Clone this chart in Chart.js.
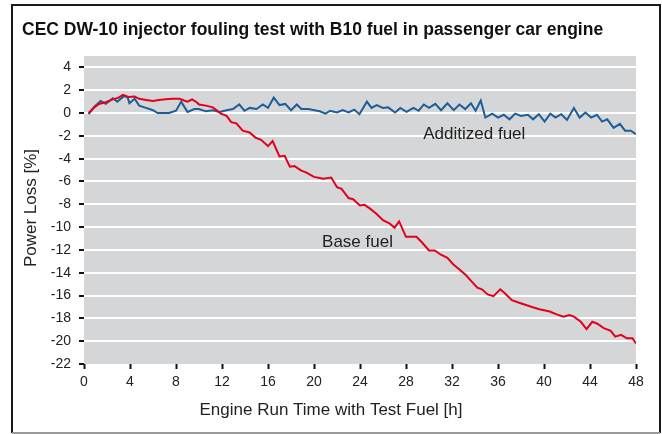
<!DOCTYPE html>
<html>
<head>
<meta charset="utf-8">
<script src="https://cdn.jsdelivr.net/npm/chart.js@4"></script>
<style>
  html, body { margin: 0; padding: 0; background: #fff; }
  #wrap { position: relative; width: 662px; height: 434px; }
</style>
</head>
<body>
<div id="wrap"><canvas id="chart" width="662" height="434"></canvas></div>
<script>
const TITLE = "CEC DW-10 injector fouling test with B10 fuel in passenger car engine";
const X_TITLE = "Engine Run Time with Test Fuel [h]";
const Y_TITLE = "Power Loss [%]";

const xTicks = [0, 4, 8, 12, 16, 20, 24, 28, 32, 36, 40, 44, 48];
const yTicks = [4, 2, 0, -2, -4, -6, -8, -10, -12, -14, -16, -18, -20, -22];

// Base fuel (red)
const baseHours = [0.4, 0.9, 1.3, 1.9, 2.5, 3.0, 3.4, 3.9, 4.4, 4.8, 5.4, 6.0, 6.5, 7.1, 7.7, 8.3, 8.7, 9.0, 9.4, 9.8,
  10.0, 10.6, 11.2, 11.6, 11.9, 12.4, 12.8, 13.25, 13.8, 14.4, 14.9, 15.4, 16.0, 16.4, 17.0, 17.45, 17.9, 18.3, 18.9, 19.3,
  20.0, 20.8, 21.5, 22.0, 22.4, 23.0, 23.4, 24.0, 24.4, 24.9, 25.4, 26.0, 26.6, 27.0, 27.4, 28.0, 28.9, 29.4, 30.0, 30.5,
  31.0, 31.6, 32.1, 32.7, 33.2, 33.6, 34.2, 34.6, 35.1, 35.6, 36.2, 36.6, 37.2, 37.9, 39.1, 39.6, 40.5, 41.1, 41.7, 42.2,
  42.6, 43.2, 43.7, 44.2, 44.6, 45.2, 45.8, 46.2, 46.7, 47.2, 47.7, 48.0];
const baseLoss = [0, 0.5, 0.8, 0.95, 1.2, 1.35, 1.6, 1.4, 1.45, 1.25, 1.15, 1.05, 1.15, 1.2, 1.25, 1.25, 1.1, 1.0, 1.2, 0.95,
  0.75, 0.65, 0.5, 0.2, -0.05, -0.25, -0.8, -0.9, -1.55, -1.7, -2.15, -2.35, -2.9, -2.45, -3.8, -3.75, -4.7, -4.65, -5.05, -5.2,
  -5.6, -5.75, -5.65, -6.5, -6.65, -7.45, -7.55, -8.1, -8.05, -8.4, -8.8, -9.4, -9.7, -10.05, -9.5, -10.85, -10.85, -11.35, -12.05, -12.05,
  -12.4, -12.7, -13.25, -13.75, -14.2, -14.65, -15.3, -15.45, -15.9, -16.05, -15.45, -15.8, -16.4, -16.65, -17.05, -17.2, -17.4, -17.65, -17.85, -17.7,
  -17.85, -18.3, -18.95, -18.3, -18.45, -18.85, -19.1, -19.6, -19.45, -19.75, -19.75, -20.2];

// Additized fuel (blue)
const addHours = [0.4, 0.9, 1.45, 1.9, 2.5, 2.9, 3.5, 3.8, 3.95, 4.4, 4.8, 5.4, 6.0, 6.4, 7.4, 8.0, 8.45, 9.0, 9.6, 10.0,
  10.6, 11.2, 11.8, 12.4, 12.95, 13.5, 13.95, 14.4, 15.0, 15.55, 16.0, 16.5, 17.0, 17.5, 18.0, 18.5, 18.9, 19.5, 20.05, 20.5,
  21.0, 21.4, 22.0, 22.5, 23.0, 23.5, 23.95, 24.6, 25.0, 25.45, 26.0, 26.45, 27.05, 27.5, 28.05, 28.65, 29.1, 29.55, 30.0, 30.55,
  31.05, 31.6, 32.15, 32.65, 33.15, 33.65, 34.05, 34.5, 34.9, 35.5, 36.0, 36.5, 37.0, 37.5, 38.0, 38.6, 39.05, 39.55, 40.05, 40.55,
  41.0, 41.5, 42.0, 42.6, 43.1, 43.6, 44.1, 44.6, 45.05, 45.5, 46.05, 46.6, 47.05, 47.55, 48.0];
const addLoss = [-0.1, 0.55, 1.05, 0.8, 1.3, 1.0, 1.5, 1.35, 0.85, 1.25, 0.65, 0.45, 0.25, 0, 0, 0.2, 1.0, 0.1, 0.35, 0.35,
  0.15, 0.25, 0.1, 0.25, 0.35, 0.75, 0.2, 0.45, 0.35, 0.75, 0.45, 1.35, 0.7, 0.8, 0.25, 0.75, 0.35, 0.35, 0.25, 0.15,
  -0.05, 0.2, 0.05, 0.25, 0.05, 0.3, -0.1, 1.0, 0.45, 0.7, 0.45, 0.5, 0.05, 0.45, 0.1, 0.45, 0.2, 0.75, 0.45, 0.8,
  0.25, 0.85, 0.25, 0.75, 0.35, 0.85, 0.2, 1.1, -0.4, -0.05, -0.4, -0.15, -0.55, -0.05, -0.25, -0.15, -0.55, -0.1, -0.75, -0.05,
  -0.4, -0.1, -0.6, 0.45, -0.4, 0.05, -0.4, -0.15, -0.75, -0.55, -1.3, -0.95, -1.55, -1.55, -1.85];

const labels = [
  { text: "Additized fuel", x: 29.5, y: -1.85 },
  { text: "Base fuel", x: 20.7, y: -11.3 },
];

const toPoints = (xs, ys) => xs.map((x, i) => ({ x, y: ys[i] }));

const FONT = "'Liberation Sans', Arial, Helvetica, sans-serif";

// gray plot background + frame + texts
const decor = {
  id: "decor",
  beforeDraw(chart) {
    const { ctx, chartArea: a } = chart;
    ctx.save();
    ctx.fillStyle = "#d5d6d8";
    ctx.fillRect(a.left, a.top, a.right - a.left, a.bottom - a.top);
    ctx.restore();
  },
  afterDraw(chart) {
    const { ctx, chartArea: a, scales } = chart;
    ctx.save();
    // frame
    ctx.strokeStyle = "#1a1a1a";
    ctx.lineWidth = 2;
    ctx.beginPath();
    ctx.moveTo(12, 433); ctx.lineTo(12, 5); ctx.lineTo(660, 5); ctx.lineTo(660, 433);
    ctx.stroke();
    ctx.strokeStyle = "#9a9a9a";
    ctx.beginPath(); ctx.moveTo(12, 433); ctx.lineTo(660, 433); ctx.stroke();

    ctx.fillStyle = "#111";
    ctx.textBaseline = "middle";
    ctx.textAlign = "left";
    ctx.font = "bold 17.5px " + FONT;
    ctx.fillText(TITLE, 22, 30);

    ctx.font = "17px " + FONT;
    ctx.fillStyle = "#222";
    ctx.textAlign = "center";
    ctx.fillText(X_TITLE, 331, 410);

    ctx.save();
    ctx.translate(31, (a.top + a.bottom) / 2 - 2);
    ctx.rotate(-Math.PI / 2);
    ctx.fillText(Y_TITLE, 0, 0);
    ctx.restore();

    ctx.textAlign = "left";
    labels.forEach(l => {
      ctx.fillText(l.text, scales.x.getPixelForValue(l.x), scales.y.getPixelForValue(l.y));
    });
    ctx.restore();
  }
};

new Chart(document.getElementById("chart"), {
  type: "line",
  data: {
    datasets: [
      { label: "Base fuel", data: toPoints(baseHours, baseLoss), borderColor: "#e2001a", borderWidth: 2,
        pointRadius: 0, tension: 0, fill: false },
      { label: "Additized fuel", data: toPoints(addHours, addLoss), borderColor: "#1c5f98", borderWidth: 2,
        pointRadius: 0, tension: 0, fill: false },
    ]
  },
  options: {
    responsive: false,
    animation: false,
    layout: { padding: { top: 56, right: 26, left: 0, bottom: 0 } },
    plugins: { legend: { display: false }, tooltip: { enabled: false } },
    scales: {
      x: {
        type: "linear", min: 0, max: 48,
        afterBuildTicks: axis => { axis.ticks = xTicks.map(v => ({ value: v })); },
        afterFit: axis => { axis.height = 70; },
        grid: { drawOnChartArea: false, tickLength: 5, tickWidth: 2, tickColor: "#111" },
        border: { display: false },
        ticks: { color: "#222", font: { family: FONT, size: 14 }, padding: 5, maxRotation: 0 }
      },
      y: {
        min: -22, max: 5,
        afterBuildTicks: axis => { axis.ticks = yTicks.map(v => ({ value: v })); },
        afterFit: axis => { axis.width = 84; },
        grid: {
          color: c => (c.tick && c.tick.value === -22) ? "rgba(0,0,0,0)" : "#ffffff",
          lineWidth: 2, tickLength: 5, tickWidth: 2, tickColor: "#111"
        },
        border: { display: false },
        ticks: { color: "#222", font: { family: FONT, size: 14 }, padding: 8 }
      }
    }
  },
  plugins: [decor]
});
</script>
</body>
</html>
